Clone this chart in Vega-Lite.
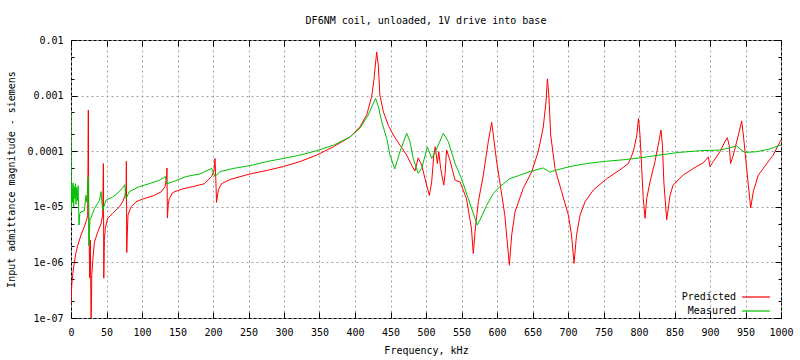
{
  "$schema": "https://vega.github.io/schema/vega-lite/v6.json",
  "width": 710,
  "height": 278,
  "autosize": {"type": "none"},
  "padding": {"left": 71, "top": 40, "right": 19, "bottom": 42},
  "background": "white",
  "title": {"text": "DF6NM coil, unloaded, 1V drive into base", "font": "DejaVu Sans Mono", "fontSize": 10, "fontWeight": "normal", "color": "black", "anchor": "middle", "baseline": "middle", "offset": 4},
  "data": {"values": [
    {"freq": 0, "series": "Predicted", "admittance": 1.7e-7},
    {"freq": 1, "series": "Predicted", "admittance": 3.9e-7},
    {"freq": 3, "series": "Predicted", "admittance": 7e-7},
    {"freq": 4.7, "series": "Predicted", "admittance": 1.0e-6},
    {"freq": 7, "series": "Predicted", "admittance": 1.5e-6},
    {"freq": 9.4, "series": "Predicted", "admittance": 2.0e-6},
    {"freq": 14, "series": "Predicted", "admittance": 3.1e-6},
    {"freq": 18.8, "series": "Predicted", "admittance": 4.4e-6},
    {"freq": 22, "series": "Predicted", "admittance": 5.8e-6},
    {"freq": 23.5, "series": "Predicted", "admittance": 7e-6},
    {"freq": 24.4, "series": "Predicted", "admittance": 5.5e-4},
    {"freq": 25.0, "series": "Predicted", "admittance": 8e-6},
    {"freq": 26.3, "series": "Predicted", "admittance": 5.3e-7},
    {"freq": 27.3, "series": "Predicted", "admittance": 2.5e-6},
    {"freq": 28.3, "series": "Predicted", "admittance": 8e-8},
    {"freq": 29.3, "series": "Predicted", "admittance": 6e-7},
    {"freq": 30.5, "series": "Predicted", "admittance": 1.0e-6},
    {"freq": 32.9, "series": "Predicted", "admittance": 2.3e-6},
    {"freq": 37.6, "series": "Predicted", "admittance": 3.5e-6},
    {"freq": 42.3, "series": "Predicted", "admittance": 5e-6},
    {"freq": 44.6, "series": "Predicted", "admittance": 7.1e-6},
    {"freq": 45.6, "series": "Predicted", "admittance": 6e-5},
    {"freq": 46.2, "series": "Predicted", "admittance": 5.2e-7},
    {"freq": 47, "series": "Predicted", "admittance": 2.5e-6},
    {"freq": 48.4, "series": "Predicted", "admittance": 4.2e-6},
    {"freq": 51.6, "series": "Predicted", "admittance": 6.2e-6},
    {"freq": 58.7, "series": "Predicted", "admittance": 7.6e-6},
    {"freq": 68, "series": "Predicted", "admittance": 1.0e-5},
    {"freq": 72.8, "series": "Predicted", "admittance": 1.23e-5},
    {"freq": 76, "series": "Predicted", "admittance": 1.6e-5},
    {"freq": 77.6, "series": "Predicted", "admittance": 2.2e-5},
    {"freq": 78, "series": "Predicted", "admittance": 6.6e-5},
    {"freq": 78.5, "series": "Predicted", "admittance": 1.5e-6},
    {"freq": 79.2, "series": "Predicted", "admittance": 3e-6},
    {"freq": 80.3, "series": "Predicted", "admittance": 7.1e-6},
    {"freq": 84.5, "series": "Predicted", "admittance": 1.0e-5},
    {"freq": 91.5, "series": "Predicted", "admittance": 1.23e-5},
    {"freq": 101, "series": "Predicted", "admittance": 1.38e-5},
    {"freq": 115, "series": "Predicted", "admittance": 1.56e-5},
    {"freq": 126.8, "series": "Predicted", "admittance": 1.85e-5},
    {"freq": 132.4, "series": "Predicted", "admittance": 2.3e-5},
    {"freq": 134.5, "series": "Predicted", "admittance": 3.2e-5},
    {"freq": 135.2, "series": "Predicted", "admittance": 5e-5},
    {"freq": 135.8, "series": "Predicted", "admittance": 6.3e-6},
    {"freq": 137, "series": "Predicted", "admittance": 1.1e-5},
    {"freq": 138.5, "series": "Predicted", "admittance": 1.4e-5},
    {"freq": 143, "series": "Predicted", "admittance": 1.8e-5},
    {"freq": 157, "series": "Predicted", "admittance": 2.1e-5},
    {"freq": 171.4, "series": "Predicted", "admittance": 2.3e-5},
    {"freq": 187.8, "series": "Predicted", "admittance": 2.6e-5},
    {"freq": 198, "series": "Predicted", "admittance": 3.5e-5},
    {"freq": 201.5, "series": "Predicted", "admittance": 4.5e-5},
    {"freq": 202.8, "series": "Predicted", "admittance": 7.4e-5},
    {"freq": 204, "series": "Predicted", "admittance": 3e-5},
    {"freq": 205, "series": "Predicted", "admittance": 1.2e-5},
    {"freq": 206, "series": "Predicted", "admittance": 1.5e-5},
    {"freq": 207.5, "series": "Predicted", "admittance": 2.0e-5},
    {"freq": 212, "series": "Predicted", "admittance": 2.6e-5},
    {"freq": 224, "series": "Predicted", "admittance": 3.1e-5},
    {"freq": 252, "series": "Predicted", "admittance": 3.9e-5},
    {"freq": 275.6, "series": "Predicted", "admittance": 4.5e-5},
    {"freq": 299, "series": "Predicted", "admittance": 5.3e-5},
    {"freq": 322.5, "series": "Predicted", "admittance": 6.5e-5},
    {"freq": 346, "series": "Predicted", "admittance": 8.5e-5},
    {"freq": 369.5, "series": "Predicted", "admittance": 1.2e-4},
    {"freq": 393, "series": "Predicted", "admittance": 1.8e-4},
    {"freq": 407, "series": "Predicted", "admittance": 2.75e-4},
    {"freq": 416.5, "series": "Predicted", "admittance": 4.5e-4},
    {"freq": 423.5, "series": "Predicted", "admittance": 9.6e-4},
    {"freq": 426.8, "series": "Predicted", "admittance": 2.0e-3},
    {"freq": 429.5, "series": "Predicted", "admittance": 4.5e-3},
    {"freq": 430.5, "series": "Predicted", "admittance": 6.1e-3},
    {"freq": 432.8, "series": "Predicted", "admittance": 3.6e-3},
    {"freq": 435, "series": "Predicted", "admittance": 1.03e-3},
    {"freq": 440, "series": "Predicted", "admittance": 5.1e-4},
    {"freq": 447, "series": "Predicted", "admittance": 2.9e-4},
    {"freq": 454, "series": "Predicted", "admittance": 1.96e-4},
    {"freq": 463.4, "series": "Predicted", "admittance": 1.28e-4},
    {"freq": 472.8, "series": "Predicted", "admittance": 8.5e-5},
    {"freq": 480, "series": "Predicted", "admittance": 5.5e-5},
    {"freq": 484.5, "series": "Predicted", "admittance": 4.4e-5},
    {"freq": 489, "series": "Predicted", "admittance": 7.6e-5},
    {"freq": 494, "series": "Predicted", "admittance": 5.6e-5},
    {"freq": 498.6, "series": "Predicted", "admittance": 3.2e-5},
    {"freq": 504.7, "series": "Predicted", "admittance": 1.6e-5},
    {"freq": 508, "series": "Predicted", "admittance": 2.8e-5},
    {"freq": 511, "series": "Predicted", "admittance": 8.5e-5},
    {"freq": 513, "series": "Predicted", "admittance": 1.2e-4},
    {"freq": 516, "series": "Predicted", "admittance": 6e-5},
    {"freq": 518, "series": "Predicted", "admittance": 9.8e-5},
    {"freq": 520.7, "series": "Predicted", "admittance": 4.9e-5},
    {"freq": 525, "series": "Predicted", "admittance": 2.45e-5},
    {"freq": 527, "series": "Predicted", "admittance": 4e-5},
    {"freq": 529, "series": "Predicted", "admittance": 1.05e-4},
    {"freq": 533, "series": "Predicted", "admittance": 7.4e-5},
    {"freq": 541, "series": "Predicted", "admittance": 3.0e-5},
    {"freq": 548, "series": "Predicted", "admittance": 2.8e-5},
    {"freq": 557, "series": "Predicted", "admittance": 1.4e-5},
    {"freq": 564, "series": "Predicted", "admittance": 4.1e-6},
    {"freq": 566.6, "series": "Predicted", "admittance": 1.44e-6},
    {"freq": 569, "series": "Predicted", "admittance": 3.5e-6},
    {"freq": 573.7, "series": "Predicted", "admittance": 1.23e-5},
    {"freq": 580.7, "series": "Predicted", "admittance": 3.7e-5},
    {"freq": 587.7, "series": "Predicted", "admittance": 1.48e-4},
    {"freq": 592.5, "series": "Predicted", "admittance": 3.3e-4},
    {"freq": 594.8, "series": "Predicted", "admittance": 1.96e-4},
    {"freq": 599.5, "series": "Predicted", "admittance": 6.5e-5},
    {"freq": 604, "series": "Predicted", "admittance": 2.8e-5},
    {"freq": 611, "series": "Predicted", "admittance": 7.1e-6},
    {"freq": 617.4, "series": "Predicted", "admittance": 8.9e-7},
    {"freq": 620.7, "series": "Predicted", "admittance": 3.1e-6},
    {"freq": 625.4, "series": "Predicted", "admittance": 8.1e-6},
    {"freq": 637, "series": "Predicted", "admittance": 2.15e-5},
    {"freq": 649, "series": "Predicted", "admittance": 4.3e-5},
    {"freq": 658, "series": "Predicted", "admittance": 9.8e-5},
    {"freq": 665, "series": "Predicted", "admittance": 2.6e-4},
    {"freq": 669, "series": "Predicted", "admittance": 7.7e-4},
    {"freq": 671, "series": "Predicted", "admittance": 2.0e-3},
    {"freq": 673, "series": "Predicted", "admittance": 1.03e-3},
    {"freq": 675.6, "series": "Predicted", "admittance": 1.96e-4},
    {"freq": 681.7, "series": "Predicted", "admittance": 4.9e-5},
    {"freq": 691, "series": "Predicted", "admittance": 1.87e-5},
    {"freq": 700.5, "series": "Predicted", "admittance": 7.1e-6},
    {"freq": 705, "series": "Predicted", "admittance": 3.1e-6},
    {"freq": 708.5, "series": "Predicted", "admittance": 9.6e-7},
    {"freq": 712, "series": "Predicted", "admittance": 3.1e-6},
    {"freq": 717, "series": "Predicted", "admittance": 7.1e-6},
    {"freq": 724, "series": "Predicted", "admittance": 1.23e-5},
    {"freq": 735.6, "series": "Predicted", "admittance": 2.0e-5},
    {"freq": 754.5, "series": "Predicted", "admittance": 3.2e-5},
    {"freq": 773, "series": "Predicted", "admittance": 4.6e-5},
    {"freq": 785, "series": "Predicted", "admittance": 6e-5},
    {"freq": 792, "series": "Predicted", "admittance": 9.8e-5},
    {"freq": 797, "series": "Predicted", "admittance": 1.96e-4},
    {"freq": 799.3, "series": "Predicted", "admittance": 3.9e-4},
    {"freq": 801.4, "series": "Predicted", "admittance": 1.96e-4},
    {"freq": 803.8, "series": "Predicted", "admittance": 4.9e-5},
    {"freq": 806, "series": "Predicted", "admittance": 1.4e-5},
    {"freq": 808.5, "series": "Predicted", "admittance": 6.2e-6},
    {"freq": 810.8, "series": "Predicted", "admittance": 1.4e-5},
    {"freq": 815.5, "series": "Predicted", "admittance": 2.8e-5},
    {"freq": 822.5, "series": "Predicted", "admittance": 6.5e-5},
    {"freq": 827, "series": "Predicted", "admittance": 1.28e-4},
    {"freq": 831, "series": "Predicted", "admittance": 2.4e-4},
    {"freq": 833, "series": "Predicted", "admittance": 1.28e-4},
    {"freq": 835, "series": "Predicted", "admittance": 2.8e-5},
    {"freq": 839, "series": "Predicted", "admittance": 5.8e-6},
    {"freq": 843.7, "series": "Predicted", "admittance": 1.6e-5},
    {"freq": 848, "series": "Predicted", "admittance": 2.45e-5},
    {"freq": 862, "series": "Predicted", "admittance": 3.7e-5},
    {"freq": 876.5, "series": "Predicted", "admittance": 4.9e-5},
    {"freq": 890.6, "series": "Predicted", "admittance": 6.2e-5},
    {"freq": 897.6, "series": "Predicted", "admittance": 7.9e-5},
    {"freq": 900, "series": "Predicted", "admittance": 5.3e-5},
    {"freq": 904.6, "series": "Predicted", "admittance": 6.5e-5},
    {"freq": 914, "series": "Predicted", "admittance": 9.8e-5},
    {"freq": 921, "series": "Predicted", "admittance": 1.48e-4},
    {"freq": 924.4, "series": "Predicted", "admittance": 1.75e-4},
    {"freq": 927, "series": "Predicted", "admittance": 1.28e-4},
    {"freq": 929, "series": "Predicted", "admittance": 6e-5},
    {"freq": 932.8, "series": "Predicted", "admittance": 8.5e-5},
    {"freq": 940, "series": "Predicted", "admittance": 1.96e-4},
    {"freq": 944.6, "series": "Predicted", "admittance": 3.5e-4},
    {"freq": 947, "series": "Predicted", "admittance": 1.96e-4},
    {"freq": 950.7, "series": "Predicted", "admittance": 6.5e-5},
    {"freq": 954, "series": "Predicted", "admittance": 2.45e-5},
    {"freq": 957.3, "series": "Predicted", "admittance": 9.5e-6},
    {"freq": 961, "series": "Predicted", "admittance": 1.87e-5},
    {"freq": 968, "series": "Predicted", "admittance": 3.7e-5},
    {"freq": 980, "series": "Predicted", "admittance": 6e-5},
    {"freq": 989, "series": "Predicted", "admittance": 8.5e-5},
    {"freq": 996, "series": "Predicted", "admittance": 1.28e-4},
    {"freq": 1000, "series": "Predicted", "admittance": 1.6e-4},
    {"freq": 0, "series": "Measured", "admittance": 5.5e-4},
    {"freq": 0.5, "series": "Measured", "admittance": 8e-6},
    {"freq": 1.2, "series": "Measured", "admittance": 2.5e-5},
    {"freq": 2, "series": "Measured", "admittance": 1.2e-5},
    {"freq": 3, "series": "Measured", "admittance": 2.7e-5},
    {"freq": 3.8, "series": "Measured", "admittance": 1.0e-5},
    {"freq": 4.5, "series": "Measured", "admittance": 2.3e-5},
    {"freq": 5.5, "series": "Measured", "admittance": 1.4e-5},
    {"freq": 6.3, "series": "Measured", "admittance": 2.6e-5},
    {"freq": 7, "series": "Measured", "admittance": 1.1e-5},
    {"freq": 8, "series": "Measured", "admittance": 2.2e-5},
    {"freq": 9, "series": "Measured", "admittance": 1.3e-5},
    {"freq": 10, "series": "Measured", "admittance": 2.4e-5},
    {"freq": 11.3, "series": "Measured", "admittance": 4.7e-6},
    {"freq": 12.5, "series": "Measured", "admittance": 7.6e-6},
    {"freq": 14, "series": "Measured", "admittance": 8.1e-6},
    {"freq": 18.8, "series": "Measured", "admittance": 8.5e-6},
    {"freq": 21, "series": "Measured", "admittance": 1.6e-5},
    {"freq": 22.5, "series": "Measured", "admittance": 1.2e-5},
    {"freq": 23.5, "series": "Measured", "admittance": 2.6e-5},
    {"freq": 24.4, "series": "Measured", "admittance": 3.5e-5},
    {"freq": 25.2, "series": "Measured", "admittance": 2.0e-6},
    {"freq": 26.8, "series": "Measured", "admittance": 6.2e-6},
    {"freq": 28, "series": "Measured", "admittance": 6.2e-6},
    {"freq": 33, "series": "Measured", "admittance": 9.3e-6},
    {"freq": 37.6, "series": "Measured", "admittance": 1.15e-5},
    {"freq": 40, "series": "Measured", "admittance": 1.3e-5},
    {"freq": 42.3, "series": "Measured", "admittance": 1.87e-5},
    {"freq": 44.6, "series": "Measured", "admittance": 8.7e-6},
    {"freq": 49.3, "series": "Measured", "admittance": 1.32e-5},
    {"freq": 58.7, "series": "Measured", "admittance": 1.5e-5},
    {"freq": 68, "series": "Measured", "admittance": 1.87e-5},
    {"freq": 73.7, "series": "Measured", "admittance": 2.3e-5},
    {"freq": 75.6, "series": "Measured", "admittance": 2.5e-5},
    {"freq": 77.5, "series": "Measured", "admittance": 1.4e-5},
    {"freq": 82, "series": "Measured", "admittance": 1.87e-5},
    {"freq": 96, "series": "Measured", "admittance": 2.3e-5},
    {"freq": 110, "series": "Measured", "admittance": 2.6e-5},
    {"freq": 124.4, "series": "Measured", "admittance": 3.0e-5},
    {"freq": 132.8, "series": "Measured", "admittance": 3.5e-5},
    {"freq": 135, "series": "Measured", "admittance": 2.6e-5},
    {"freq": 143, "series": "Measured", "admittance": 2.8e-5},
    {"freq": 162, "series": "Measured", "admittance": 3.5e-5},
    {"freq": 181.7, "series": "Measured", "admittance": 3.9e-5},
    {"freq": 198, "series": "Measured", "admittance": 4.9e-5},
    {"freq": 202.8, "series": "Measured", "admittance": 3.5e-5},
    {"freq": 210, "series": "Measured", "admittance": 4.3e-5},
    {"freq": 228.6, "series": "Measured", "admittance": 4.9e-5},
    {"freq": 252, "series": "Measured", "admittance": 5.5e-5},
    {"freq": 275.6, "series": "Measured", "admittance": 6.5e-5},
    {"freq": 299, "series": "Measured", "admittance": 7.4e-5},
    {"freq": 322.5, "series": "Measured", "admittance": 8.5e-5},
    {"freq": 346, "series": "Measured", "admittance": 1.02e-4},
    {"freq": 369.5, "series": "Measured", "admittance": 1.28e-4},
    {"freq": 393, "series": "Measured", "admittance": 1.8e-4},
    {"freq": 407, "series": "Measured", "admittance": 2.6e-4},
    {"freq": 418.7, "series": "Measured", "admittance": 4.5e-4},
    {"freq": 424, "series": "Measured", "admittance": 6.5e-4},
    {"freq": 429, "series": "Measured", "admittance": 8.9e-4},
    {"freq": 433, "series": "Measured", "admittance": 6.3e-4},
    {"freq": 437.6, "series": "Measured", "admittance": 3.4e-4},
    {"freq": 444.6, "series": "Measured", "admittance": 1.7e-4},
    {"freq": 449.3, "series": "Measured", "admittance": 8.5e-5},
    {"freq": 456, "series": "Measured", "admittance": 4.8e-5},
    {"freq": 463.4, "series": "Measured", "admittance": 9.8e-5},
    {"freq": 472.8, "series": "Measured", "admittance": 2.1e-4},
    {"freq": 477.5, "series": "Measured", "admittance": 1.48e-4},
    {"freq": 482, "series": "Measured", "admittance": 7.4e-5},
    {"freq": 489, "series": "Measured", "admittance": 4.0e-5},
    {"freq": 494, "series": "Measured", "admittance": 4.9e-5},
    {"freq": 502, "series": "Measured", "admittance": 1.2e-4},
    {"freq": 508, "series": "Measured", "admittance": 7.4e-5},
    {"freq": 515, "series": "Measured", "admittance": 1.1e-4},
    {"freq": 524.4, "series": "Measured", "admittance": 2.1e-4},
    {"freq": 531.4, "series": "Measured", "admittance": 1.48e-4},
    {"freq": 541, "series": "Measured", "admittance": 6e-5},
    {"freq": 550, "series": "Measured", "admittance": 3.2e-5},
    {"freq": 559.6, "series": "Measured", "admittance": 1.4e-5},
    {"freq": 569, "series": "Measured", "admittance": 6.2e-6},
    {"freq": 572, "series": "Measured", "admittance": 4.7e-6},
    {"freq": 576, "series": "Measured", "admittance": 5.8e-6},
    {"freq": 585.5, "series": "Measured", "admittance": 1.07e-5},
    {"freq": 594.8, "series": "Measured", "admittance": 1.74e-5},
    {"freq": 604, "series": "Measured", "admittance": 2.3e-5},
    {"freq": 618, "series": "Measured", "admittance": 3.2e-5},
    {"freq": 632, "series": "Measured", "admittance": 3.7e-5},
    {"freq": 646.5, "series": "Measured", "admittance": 4.3e-5},
    {"freq": 665, "series": "Measured", "admittance": 5.0e-5},
    {"freq": 674.6, "series": "Measured", "admittance": 4.2e-5},
    {"freq": 684, "series": "Measured", "admittance": 4.6e-5},
    {"freq": 703, "series": "Measured", "admittance": 5.3e-5},
    {"freq": 726, "series": "Measured", "admittance": 6.0e-5},
    {"freq": 754.5, "series": "Measured", "admittance": 6.6e-5},
    {"freq": 782.6, "series": "Measured", "admittance": 7.1e-5},
    {"freq": 801.4, "series": "Measured", "admittance": 7.6e-5},
    {"freq": 828, "series": "Measured", "admittance": 8.5e-5},
    {"freq": 856, "series": "Measured", "admittance": 9.5e-5},
    {"freq": 885.9, "series": "Measured", "admittance": 1.02e-4},
    {"freq": 914, "series": "Measured", "admittance": 1.05e-4},
    {"freq": 928, "series": "Measured", "admittance": 1.15e-4},
    {"freq": 937.6, "series": "Measured", "admittance": 1.24e-4},
    {"freq": 942.3, "series": "Measured", "admittance": 1.1e-4},
    {"freq": 949.3, "series": "Measured", "admittance": 9.5e-5},
    {"freq": 965.8, "series": "Measured", "admittance": 9.8e-5},
    {"freq": 984.5, "series": "Measured", "admittance": 1.1e-4},
    {"freq": 1000, "series": "Measured", "admittance": 1.3e-4}
  ]},
  "layer": [
    {
      "mark": {"type": "line", "strokeWidth": 1, "clip": true},
      "encoding": {
        "x": {"field": "freq", "type": "quantitative", "scale": {"domain": [0, 1000], "nice": false},
          "axis": {"values": [0,50,100,150,200,250,300,350,400,450,500,550,600,650,700,750,800,850,900,950,1000],
            "format": "d", "labelOverlap": false, "labelFlush": false,
            "title": "Frequency, kHz", "tickSize": -6, "labelPadding": 15, "titleY": 32, "titleBaseline": "middle"}},
        "y": {"field": "admittance", "type": "quantitative", "scale": {"type": "log", "domain": [1e-7, 0.01], "nice": false},
          "axis": {"values": [1e-7,2e-7,5e-7,1e-6,2e-6,5e-6,1e-5,2e-5,5e-5,0.0001,0.0002,0.0005,0.001,0.002,0.005,0.01],
            "labelOverlap": false, "labelFlush": false,
            "labelExpr": "datum.value == 0.01 ? '0.01' : datum.value == 0.001 ? '0.001' : datum.value == 0.0001 ? '0.0001' : datum.value == 0.00001 ? '1e-05' : datum.value == 0.000001 ? '1e-06' : datum.value == 1e-7 ? '1e-07' : ''",
            "tickSize": {"condition": {"test": "indexof([1e-7,1e-6,1e-5,0.0001,0.001,0.01], datum.value) >= 0", "value": -6}, "value": -3},
            "gridOpacity": {"condition": {"test": "indexof([1e-7,1e-6,1e-5,0.0001,0.001,0.01], datum.value) >= 0", "value": 1}, "value": 0},
            "labelPadding": 14,
            "title": "Input admittance magnitude - siemens", "titleX": -60, "titleY": 139, "titleBaseline": "middle"}},
        "color": {"field": "series", "type": "nominal", "sort": ["Predicted", "Measured"],
          "scale": {"domain": ["Predicted", "Measured"], "range": ["#ff0000", "#00c000"]},
          "legend": {"title": null, "orient": "none", "legendX": 679, "legendY": 251, "padding": 0,
            "symbolType": "M-2.8,0L2.8,0", "symbolSize": 100, "symbolStrokeWidth": 1.2, "symbolFillColor": "transparent",
            "labelAlign": "right", "labelOffset": -26, "rowPadding": 3,
            "labelFont": "DejaVu Sans Mono", "labelFontSize": 10, "labelColor": "black"}}
      }
    },
    {
      "mark": {"type": "point", "opacity": 0, "size": 0},
      "encoding": {
        "x": {"field": "freq", "type": "quantitative", "scale": {"domain": [0, 1000], "nice": false},
          "axis": {"orient": "top", "values": [0,50,100,150,200,250,300,350,400,450,500,550,600,650,700,750,800,850,900,950,1000],
            "labels": false, "grid": false, "tickSize": -6, "title": null}},
        "y": {"field": "admittance", "type": "quantitative", "scale": {"type": "log", "domain": [1e-7, 0.01], "nice": false},
          "axis": {"orient": "right", "values": [1e-7,2e-7,5e-7,1e-6,2e-6,5e-6,1e-5,2e-5,5e-5,0.0001,0.0002,0.0005,0.001,0.002,0.005,0.01],
            "labels": false, "grid": false, "title": null,
            "tickSize": {"condition": {"test": "indexof([1e-7,1e-6,1e-5,0.0001,0.001,0.01], datum.value) >= 0", "value": -6}, "value": -3}}}
      }
    }
  ],
  "resolve": {"axis": {"x": "independent", "y": "independent"}},
  "config": {
    "view": {"stroke": "black", "strokeWidth": 1},
    "axis": {"domain": false, "grid": true, "gridColor": "#a0a0a0", "gridDash": [2, 3], "gridWidth": 1,
      "tickColor": "black", "tickWidth": 1,
      "labelFont": "DejaVu Sans Mono", "labelFontSize": 10, "labelColor": "black",
      "titleFont": "DejaVu Sans Mono", "titleFontSize": 10, "titleFontWeight": "normal", "titleColor": "black"}
  }
}
